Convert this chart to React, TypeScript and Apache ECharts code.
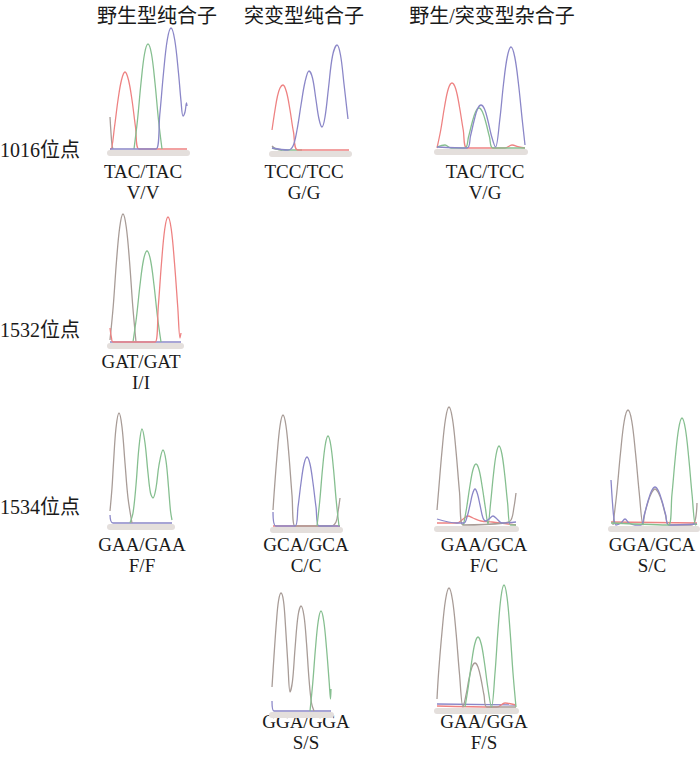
import React, { useEffect, useRef } from 'react';
import * as echarts from 'echarts';

const columnHeaders = ['野生型纯合子', '突变型纯合子', '野生/突变型杂合子'];
const rowLabels = ['1016位点', '1532位点', '1534位点'];
const codonLabels = ['TAC/TAC', 'TCC/TCC', 'TAC/TCC', 'GAT/GAT', 'GAA/GAA', 'GCA/GCA', 'GAA/GCA', 'GGA/GCA', 'GGA/GGA', 'GAA/GGA'];
const aminoLabels = ['V/V', 'G/G', 'V/G', 'I/I', 'F/F', 'C/C', 'F/C', 'S/C', 'S/S', 'F/S'];

// Chromatogram traces: [scan position, signal]
const r1c1Gray = [[0, 32], [1, 16], [2, 4], [3, 0]];
const r1c1Red = [[0, 0], [1, 0], [4.5, 22], [8, 49], [11.5, 69], [15, 77], [18.5, 69], [22, 49], [25.5, 22], [29, 0], [77, 0]];
const r1c1Green = [[24, 0], [27.5, 29], [31, 66], [34.5, 95], [38, 105], [41.5, 95], [45, 66], [48.5, 29], [52, 0]];
const r1c1Blue = [[0, 0], [46, 0], [49.75, 34], [53.5, 76], [57.25, 109], [61, 121], [64.75, 109], [68.5, 76], [71, 48], [73, 33], [75, 37], [76.5, 46], [77, 43]];

const r1c2Gray = [[0, 4], [4, 1], [10, 0]];
const r1c2Green = [[0, 2], [12, 0], [30, 0]];
const r1c2Red = [[0, 20], [3, 40], [5.5, 54], [8, 62], [11, 65], [14.5, 58], [18, 40], [21.5, 18], [26, 0], [77, 0]];
const r1c2Blue = [[0, 2], [16, 0], [21, 4], [25, 20], [29, 45], [33, 68], [37, 79], [40.5, 72], [44, 50], [47, 31], [50, 23], [53, 33], [56.5, 62], [60.5, 94], [65, 105], [68.5, 95], [72, 66], [74.5, 44], [76, 31]];

const r1c3Red = [[0, 0], [3.75, 18], [7.5, 41], [11.25, 59], [15, 65], [18.75, 59], [22.5, 41], [26.25, 18], [30, 0], [68, 0], [75, 3], [82, 1], [88, 0]];
const r1c3Green = [[0, 1], [8, 3], [14, 0], [28, 0], [31.5, 11], [35, 25], [38.5, 36], [42, 40], [45.5, 36], [49, 25], [52.5, 11], [56, 0], [88, 0]];
const r1c3Blue = [[0, 1], [30, 0], [33.5, 12], [37, 27], [40.5, 39], [44, 43], [47.5, 39], [51, 27], [54.5, 12], [58.5, 1], [62.75, 28], [66.5, 64], [70.25, 91], [74, 101], [77.75, 91], [81.5, 64], [85.25, 28], [88, 3]];

const r2c1Blue = [[0, 0], [71, 0]];
const r2c1Gray = [[0, 2], [3.25, 36], [6.5, 81], [9.75, 115], [13, 128], [16.25, 115], [19.5, 81], [22.75, 36], [26, 0]];
const r2c1Green = [[23, 0], [26.5, 25], [30, 57], [33.5, 82], [37, 91], [40.5, 82], [44, 57], [47.5, 25], [51, 0]];
const r2c1Red = [[0, 14], [1.5, 4], [3, 0], [45, 0], [48.25, 35], [51.5, 79], [54.75, 113], [58, 125], [61.25, 113], [64.5, 79], [67.75, 35], [70, 4], [71, 9]];

const r3c1Blue = [[0, 8], [3, 0], [62, 0]];
const r3c1Gray = [[0, 12], [2, 35], [3.5, 60], [6, 95], [9, 110], [12, 96], [15, 60], [18, 25], [22, 0]];
const r3c1Green = [[20, 0], [23, 10], [26, 38], [29, 76], [32, 94], [35, 80], [38, 50], [40.5, 30], [43, 25], [46, 35], [49, 58], [53, 73], [56, 62], [58.5, 36], [60.5, 12], [62, 3]];

const r3c2Red = [[0, 0], [67, 0]];
const r3c2Gray = [[0, 16], [1, 31], [4, 70], [7, 100], [10, 111], [13, 100], [16, 70], [19, 31], [22, 0], [58, 0], [63, 4], [65, 14], [67, 28]];
const r3c2Blue = [[0, 14], [3, 0], [22, 0], [25, 19], [28, 43], [31, 62], [34, 69], [37, 62], [40, 43], [43, 19], [46, 0], [67, 0]];
const r3c2Green = [[44, 0], [46.75, 25], [49.5, 57], [52.25, 81], [55, 90], [57.75, 81], [60.5, 57], [63.25, 25], [66, 0]];

const r3c3Red = [[0, 2], [20, 2], [25, 5], [31, 9], [36, 7], [44, 4], [55, 3], [79, 0]];
const r3c3Gray = [[0, 15], [1.5, 33], [5, 74], [8.5, 106], [12, 118], [15.5, 106], [19, 74], [22.5, 33], [26, 0], [68, 2], [74, 5], [77, 18], [79, 32]];
const r3c3Green = [[26.5, 0], [29.6, 17], [32.75, 38], [35.9, 55], [39, 61], [42.1, 55], [45.25, 38], [48.4, 17], [51, 1], [53.6, 22], [56.4, 50], [59.2, 71], [62, 79], [64.9, 71], [67.75, 50], [70.6, 22], [73.5, 0], [79, 0]];
const r3c3Blue = [[0, 6], [20, 2], [27, 2], [30, 8], [33, 20], [35.5, 31], [38, 36], [40.5, 31], [43, 20], [46, 7], [49, 4], [52, 6], [56, 9], [60, 6], [65, 2], [79, 3]];

const r3c4Red = [[0, 3], [86, 2]];
const r3c4Gray = [[2, 0], [5.75, 32], [9.5, 72], [13.25, 104], [17, 115], [20.75, 104], [24.5, 72], [28.25, 32], [32, 0], [33.5, 10], [37, 23], [40.5, 32], [44, 36], [47.5, 32], [51, 23], [54.5, 10], [58, 0], [80, 0], [84, 4], [86, 22]];
const r3c4Blue = [[0, 45], [1.5, 22], [3, 6], [5, 0], [10, 2], [14, 6], [18, 2], [24, 0], [30, 0], [33.5, 11], [37, 24], [40.5, 34], [44, 38], [47.5, 34], [51, 24], [54.5, 11], [58, 0], [86, 1]];
const r3c4Green = [[0, 2], [57.5, 0], [60.9, 30], [64.25, 67], [67.6, 96], [71, 107], [74.4, 96], [77.75, 67], [81.1, 30], [84.5, 0], [86, 1]];

const r4c2Blue = [[0, 10], [2, 0], [59, 0]];
const r4c2Gray = [[0, 24], [2, 55], [4.5, 90], [6.5, 110], [9, 118], [11.5, 110], [13.5, 85], [16, 45], [18, 19], [20.5, 30], [23, 62], [26, 95], [29, 105], [32, 95], [34.5, 68], [37, 32], [39.5, 8], [42, 0]];
const r4c2Green = [[38, 0], [40.75, 28], [43.5, 63], [46.25, 90], [49, 100], [51.75, 90], [54.5, 63], [57.25, 28], [58.5, 12], [59, 22]];

const r4c3Blue = [[0, 3], [79, 2]];
const r4c3Red = [[0, 1], [60, 0], [68, 4], [79, 2]];
const r4c3Gray = [[0, 8], [1.5, 33], [5, 75], [8.5, 107], [12, 119], [15.5, 107], [19, 75], [22.5, 33], [26, 0], [29, 12], [32, 28], [35, 40], [38, 44], [41, 40], [44, 28], [47, 12], [50, 0], [79, 0]];
const r4c3Green = [[28, 0], [31.25, 20], [34.5, 44], [37.75, 63], [41, 70], [44.25, 63], [47.5, 44], [50.75, 20], [54.5, 0], [58, 34], [61, 77], [64, 110], [67, 122], [70, 110], [73, 77], [76, 34], [79, 0]];

const COLORS: Record<string, string> = {
  red: '#ee8282',
  green: '#86bf90',
  blue: '#8b87c8',
  gray: '#a89c97',
};

const panelTraces: { color: string; data: number[][] }[][] = [
  [{ color: 'gray', data: r1c1Gray }, { color: 'red', data: r1c1Red }, { color: 'green', data: r1c1Green }, { color: 'blue', data: r1c1Blue }],
  [{ color: 'gray', data: r1c2Gray }, { color: 'green', data: r1c2Green }, { color: 'red', data: r1c2Red }, { color: 'blue', data: r1c2Blue }],
  [{ color: 'red', data: r1c3Red }, { color: 'green', data: r1c3Green }, { color: 'blue', data: r1c3Blue }],
  [{ color: 'blue', data: r2c1Blue }, { color: 'gray', data: r2c1Gray }, { color: 'green', data: r2c1Green }, { color: 'red', data: r2c1Red }],
  [{ color: 'blue', data: r3c1Blue }, { color: 'gray', data: r3c1Gray }, { color: 'green', data: r3c1Green }],
  [{ color: 'red', data: r3c2Red }, { color: 'gray', data: r3c2Gray }, { color: 'blue', data: r3c2Blue }, { color: 'green', data: r3c2Green }],
  [{ color: 'red', data: r3c3Red }, { color: 'gray', data: r3c3Gray }, { color: 'green', data: r3c3Green }, { color: 'blue', data: r3c3Blue }],
  [{ color: 'red', data: r3c4Red }, { color: 'gray', data: r3c4Gray }, { color: 'blue', data: r3c4Blue }, { color: 'green', data: r3c4Green }],
  [{ color: 'blue', data: r4c2Blue }, { color: 'gray', data: r4c2Gray }, { color: 'green', data: r4c2Green }],
  [{ color: 'blue', data: r4c3Blue }, { color: 'red', data: r4c3Red }, { color: 'gray', data: r4c3Gray }, { color: 'green', data: r4c3Green }],
];

// Layout (pixels): left edge, baseline y, width of each panel
const panelLayout = [
  { left: 110, base: 149, width: 77 },
  { left: 272, base: 150, width: 77 },
  { left: 437, base: 148, width: 88 },
  { left: 110, base: 342, width: 71 },
  { left: 110, base: 523, width: 62 },
  { left: 273, base: 526, width: 67 },
  { left: 437, base: 525, width: 79 },
  { left: 611, base: 525, width: 86 },
  { left: 272, base: 711, width: 59 },
  { left: 437, base: 707, width: 79 },
];
// centre of each codon line; amino-acid line sits one line below
const labelLayout = [
  { x: 143, y: 171 }, { x: 304, y: 171 }, { x: 485, y: 171 },
  { x: 141, y: 361 },
  { x: 142, y: 544 }, { x: 306, y: 544 }, { x: 484, y: 544 }, { x: 652, y: 544 },
  { x: 306, y: 721 }, { x: 484, y: 721 },
];
const LINE_GAP = 21.5;
const headerLayout = [{ x: 157, y: 16 }, { x: 304, y: 16 }, { x: 492, y: 16 }];
const rowLabelLayout = [{ x: 0, y: 150 }, { x: 0, y: 330 }, { x: 0, y: 507 }];

const FONT = '"Liberation Serif", "Times New Roman", "Noto Sans CJK SC", serif';
const Y_MIN = -3;
const Y_MAX = 132;

export default function App() {
  const ref = useRef<HTMLDivElement>(null);
  useEffect(() => {
    if (!ref.current) return;
    const chart = echarts.init(ref.current, undefined, { renderer: 'svg' });
    const grid: any[] = [];
    const xAxis: any[] = [];
    const yAxis: any[] = [];
    const series: any[] = [];
    panelLayout.forEach((p, i) => {
      grid.push({ left: p.left, top: p.base - Y_MAX, width: p.width, height: Y_MAX - Y_MIN });
      xAxis.push({
        type: 'value', gridIndex: i, min: 0, max: p.width, offset: 0.5,
        axisLine: { show: true, onZero: false, lineStyle: { color: '#e4dfdc', width: 6 } },
        axisTick: { show: false }, axisLabel: { show: false }, splitLine: { show: false },
      });
      yAxis.push({ type: 'value', gridIndex: i, min: Y_MIN, max: Y_MAX, show: false, splitLine: { show: false } });
      panelTraces[i].forEach((t) => {
        series.push({
          type: 'line', xAxisIndex: i, yAxisIndex: i, data: t.data,
          smooth: 0.35, symbol: 'none', silent: true,
          lineStyle: { color: COLORS[t.color], width: 1.3 },
        });
      });
    });
    const graphic: any[] = [];
    columnHeaders.forEach((h, i) => {
      graphic.push({ type: 'text', x: headerLayout[i].x, y: headerLayout[i].y,
        style: { text: h, fontSize: 20, fontFamily: FONT, fill: '#1a1a1a', align: 'center', verticalAlign: 'middle' } });
    });
    rowLabels.forEach((r, i) => {
      graphic.push({ type: 'text', x: rowLabelLayout[i].x, y: rowLabelLayout[i].y,
        style: { text: r, fontSize: 20, fontFamily: FONT, fill: '#1a1a1a', align: 'left', verticalAlign: 'middle' } });
    });
    codonLabels.forEach((c, i) => {
      graphic.push({ type: 'text', x: labelLayout[i].x, y: labelLayout[i].y,
        style: { text: c, fontSize: 19, fontFamily: FONT, fill: '#1a1a1a', align: 'center', verticalAlign: 'middle' } });
      graphic.push({ type: 'text', x: labelLayout[i].x, y: labelLayout[i].y + LINE_GAP,
        style: { text: aminoLabels[i], fontSize: 19, fontFamily: FONT, fill: '#1a1a1a', align: 'center', verticalAlign: 'middle' } });
    });
    chart.setOption({
      animation: false,
      backgroundColor: '#ffffff',
      grid, xAxis, yAxis, series, graphic,
    });
    return () => chart.dispose();
  }, []);
  return <div ref={ref} style={{ position: 'absolute', left: 0, top: 0, width: 700, height: 757 }} />;
}
